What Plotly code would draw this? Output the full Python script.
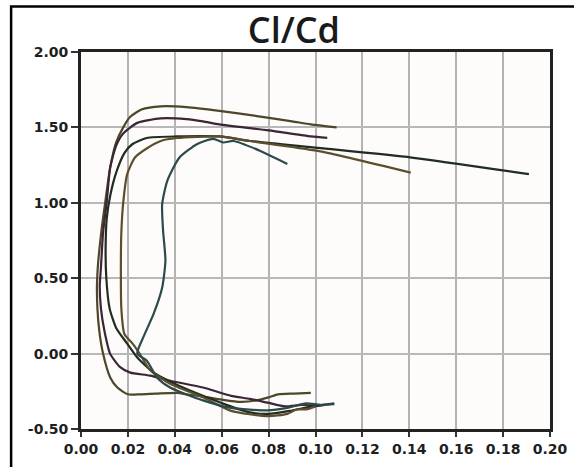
import plotly.graph_objects as go

# Polar curves (Cd on x, Cl on y)
cd_a = [0.098, 0.091, 0.084, 0.080, 0.075, 0.068, 0.060, 0.052, 0.045, 0.041, 0.032, 0.025, 0.020, 0.0155, 0.0125,
        0.0094, 0.0078, 0.0070, 0.0068, 0.0073, 0.0090, 0.0103, 0.0124, 0.0150, 0.018, 0.021, 0.026, 0.034, 0.045,
        0.059, 0.075, 0.090, 0.098, 0.109]
cl_a = [-0.26, -0.265, -0.27, -0.29, -0.31, -0.32, -0.305, -0.285, -0.27, -0.26, -0.265, -0.27, -0.27, -0.225, -0.16,
        0.0, 0.15, 0.30, 0.45, 0.60, 0.85, 1.0, 1.23, 1.40, 1.50, 1.57, 1.62, 1.64, 1.635,
        1.61, 1.575, 1.54, 1.52, 1.50]

cd_b = [0.108, 0.100, 0.094, 0.087, 0.0795, 0.072, 0.064, 0.052, 0.038, 0.0295, 0.021, 0.0167, 0.0124, 0.0100, 0.0085,
        0.0080, 0.0085, 0.0094, 0.0110, 0.0124, 0.015, 0.018, 0.024, 0.034, 0.045, 0.052, 0.059, 0.080, 0.098, 0.105]
cl_b = [-0.33, -0.345, -0.34, -0.35, -0.325, -0.30, -0.28, -0.225, -0.18, -0.146, -0.126, -0.09, 0.0, 0.15, 0.30,
        0.45, 0.57, 0.80, 1.01, 1.23, 1.38, 1.46, 1.53, 1.56, 1.555, 1.54, 1.52, 1.48, 1.44, 1.43]

cd_c = [0.104, 0.097, 0.089, 0.080, 0.072, 0.062, 0.052, 0.042, 0.031, 0.024, 0.0197, 0.0150, 0.0122, 0.0108, 0.0105,
        0.0110, 0.0125, 0.0150, 0.0185, 0.022, 0.028, 0.041, 0.059, 0.072, 0.101, 0.141, 0.191]
cl_c = [-0.34, -0.355, -0.38, -0.40, -0.39, -0.34, -0.28, -0.215, -0.126, -0.026, 0.066, 0.17, 0.30, 0.50, 0.70,
        0.90, 1.05, 1.20, 1.33, 1.39, 1.43, 1.44, 1.44, 1.41, 1.364, 1.30, 1.19]

cd_d = [0.100, 0.096, 0.092, 0.088, 0.0795, 0.064, 0.052, 0.038, 0.0295, 0.025, 0.022, 0.0185, 0.0172, 0.0170, 0.0172,
        0.0180, 0.0197, 0.023, 0.028, 0.034, 0.041, 0.059, 0.072, 0.101, 0.1406]
cl_d = [-0.35, -0.37, -0.37, -0.40, -0.415, -0.38, -0.29, -0.20, -0.11, 0.0, 0.066, 0.13, 0.30, 0.55, 0.80,
        1.00, 1.19, 1.30, 1.36, 1.41, 1.43, 1.44, 1.41, 1.344, 1.20]

cd_e = [0.108, 0.102, 0.096, 0.088, 0.0795, 0.064, 0.052, 0.038, 0.0325, 0.028, 0.024, 0.0265, 0.031, 0.0346, 0.036,
        0.035, 0.0346, 0.0368, 0.042, 0.0496, 0.0564, 0.0607, 0.065, 0.0765, 0.088]
cl_e = [-0.335, -0.34, -0.33, -0.36, -0.377, -0.36, -0.31, -0.225, -0.16, -0.046, 0.0, 0.106, 0.265, 0.437, 0.616,
        0.815, 0.99, 1.146, 1.30, 1.39, 1.424, 1.40, 1.41, 1.344, 1.258]

series = [
    (cd_a, cl_a, "#4d4629"),
    (cd_b, cl_b, "#3a2636"),
    (cd_c, cl_c, "#222b22"),
    (cd_d, cl_d, "#5c4e2c"),
    (cd_e, cl_e, "#2c4a4c"),
]

x_ticks = [0.00, 0.02, 0.04, 0.06, 0.08, 0.10, 0.12, 0.14, 0.16, 0.18, 0.20]
x_labels = ["0.00", "0.02", "0.04", "0.06", "0.08", "0.10", "0.12", "0.14", "0.16", "0.18", "0.20"]
y_ticks = [-0.50, 0.00, 0.50, 1.00, 1.50, 2.00]
y_labels = ["-0.50", "0.00", "0.50", "1.00", "1.50", "2.00"]

fig = go.Figure()
for xs, ys, col in series:
    fig.add_trace(go.Scatter(x=xs, y=ys, mode="lines",
                             line=dict(color=col, width=2.2, shape="spline", smoothing=0.6),
                             showlegend=False, hoverinfo="skip"))

tick_font = dict(family="DejaVu Sans", size=14, color="#1e1e1e", weight="bold")
fig.update_layout(
    width=574, height=467,
    margin=dict(l=81, r=24, t=52, b=38, autoexpand=False),
    paper_bgcolor="white",
    plot_bgcolor="#fdfcfa",
    title=dict(text="Cl/Cd", x=0.512, xref="container", xanchor="center",
               y=0.935, yref="container", yanchor="middle",
               font=dict(family="Open Sans", size=36, color="#1a1a1a", weight=600)),
    xaxis=dict(range=[0, 0.2], tickvals=x_ticks, ticktext=x_labels,
               showgrid=True, gridcolor="#b3b3b3", gridwidth=2,
               showline=True, linecolor="#222222", linewidth=3, mirror=True,
               ticks="outside", ticklen=5, tickwidth=2, tickcolor="#333333",
               tickfont=tick_font, automargin=False,
               zeroline=False, fixedrange=True),
    yaxis=dict(range=[-0.5, 2.0], tickvals=y_ticks, ticktext=y_labels,
               showgrid=True, gridcolor="#b8b8b8", gridwidth=2,
               showline=True, linecolor="#222222", linewidth=3, mirror=True,
               ticks="outside", ticklen=7, tickwidth=2, tickcolor="#333333",
               tickfont=tick_font, automargin=False,
               zeroline=False, fixedrange=True),
    shapes=[dict(type="path", xref="paper", yref="paper",
                 path="M -0.149,-0.3 L -0.149,1.121 L 1.3,1.121",
                 line=dict(color="black", width=2.5), layer="above")],
)

fig.write_html("out.html", config={"displayModeBar": False},
               post_script="document.body.style.margin='0';document.body.style.overflow='hidden';")
